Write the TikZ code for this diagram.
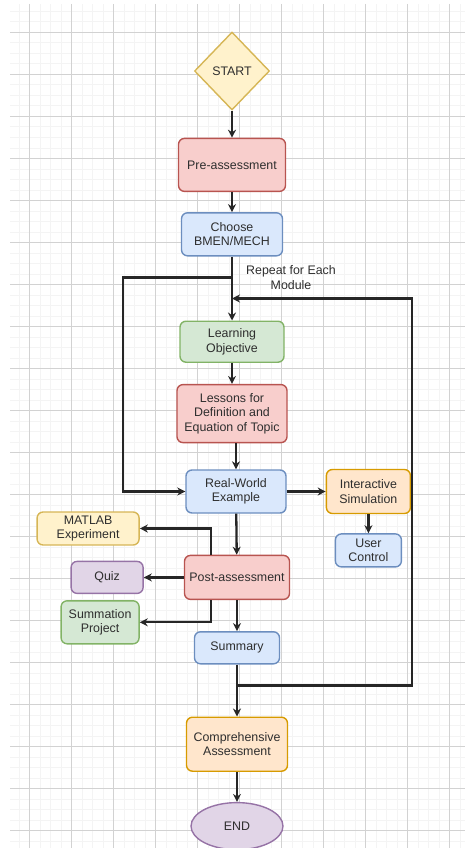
\documentclass[tikz,border=0pt]{standalone}
\usepackage{fontspec}
\setmainfont{Liberation Sans}
\usetikzlibrary{positioning,arrows.meta,shapes.geometric}

\definecolor{yelfill}{HTML}{FFF2CC}\definecolor{yeldraw}{HTML}{D6B656}
\definecolor{redfill}{HTML}{F8CECC}\definecolor{reddraw}{HTML}{B85450}
\definecolor{blufill}{HTML}{DAE8FC}\definecolor{bludraw}{HTML}{6C8EBF}
\definecolor{grnfill}{HTML}{D5E8D4}\definecolor{grndraw}{HTML}{82B366}
\definecolor{orgfill}{HTML}{FFE6CC}\definecolor{orgdraw}{HTML}{D79B00}
\definecolor{purfill}{HTML}{E1D5E7}\definecolor{purdraw}{HTML}{9673A6}
\definecolor{gridminor}{HTML}{F4F4F4}\definecolor{gridmajor}{HTML}{D2D2D2}
\definecolor{txt}{HTML}{2E2E2E}

\begin{document}
\begin{tikzpicture}[
        x=1pt, y=-1pt,
        node distance=20pt and 40pt,
        >={Stealth[length=8pt, width=8pt]},
        box/.style={rectangle, rounded corners=6pt, line width=1.4pt, align=center, inner sep=2pt, text=txt, font=\fontsize{12.4}{14.5}\selectfont},
        yelbox/.style={box, fill=yelfill, draw=yeldraw},
        redbox/.style={box, fill=redfill, draw=reddraw},
        blubox/.style={box, fill=blufill, draw=bludraw},
        grnbox/.style={box, fill=grnfill, draw=grndraw},
        orgbox/.style={box, fill=orgfill, draw=orgdraw},
        purbox/.style={box, fill=purfill, draw=purdraw},
        arrow/.style={->, line width=2.3pt, draw=black!85}
    ]
    \useasboundingbox (0,0) rectangle (465,848);
    \foreach \i in {1,...,43} \draw[gridminor, line width=1pt] ({8.5+\i*10.5},4) -- ({8.5+\i*10.5},848);
    \foreach \i in {-2,...,78} \draw[gridminor, line width=1pt] (10,{32.5+\i*10.5}) -- (465,{32.5+\i*10.5});
    \foreach \i in {0,...,10} \draw[gridmajor, line width=1pt] ({29.5+\i*42},4) -- ({29.5+\i*42},848);
    \foreach \i in {0,...,19} \draw[gridmajor, line width=1pt] (10,{32.5+\i*42}) -- (465,{32.5+\i*42});

    \node[yelbox, diamond, rounded corners=0pt, minimum width=75pt, minimum height=78pt, inner sep=0pt] (start) at (232,71) {START};
    \node[redbox, below=27pt of start, minimum width=107pt, minimum height=53pt] (pre) {Pre-assessment};
    \node[blubox, below=of pre, minimum width=101pt, minimum height=43pt] (choose) {Choose\\BMEN/MECH};
    \node[grnbox, below=64pt of choose, minimum width=104pt, minimum height=41pt] (learn) {Learning\\Objective};
    \node[redbox, below=21pt of learn, minimum width=110pt, minimum height=58pt] (lessons) {Lessons for\\Definition and\\Equation of Topic};
    \node[blubox, below=26pt of lessons, xshift=4pt, minimum width=100pt, minimum height=43pt] (real) {Real-World\\Example};
    \node[orgbox, right=39pt of real, minimum width=84pt, minimum height=44pt] (inter) {Interactive\\Simulation};
    \node[blubox, below=19pt of inter, minimum width=66pt, minimum height=33pt] (user) {User\\Control};
    \node[redbox, below=41pt of real, xshift=1pt, minimum width=105pt, minimum height=44pt] (post) {Post-assessment};
    \node[yelbox, above left=9pt and 44pt of post, minimum width=102pt, minimum height=33pt] (matlab) {MATLAB\\Experiment};
    \node[purbox, left=of post, minimum width=72pt, minimum height=32pt] (quiz) {Quiz};
    \node[grnbox, below left=0pt and 44pt of post, minimum width=78pt, minimum height=43pt] (summation) {Summation\\Project};
    \node[blubox, below=31pt of post, minimum width=85pt, minimum height=32pt] (summary) {Summary};
    \node[orgbox, below=52pt of summary, minimum width=101pt, minimum height=54pt] (comp) {Comprehensive\\Assessment};
    \node[purbox, ellipse, minimum width=92pt, minimum height=47pt] (end) [below=30pt of comp] {END};

    \coordinate[below=21pt of choose.south] (fork);
    \coordinate[below=21pt of fork] (merge);
    \coordinate[below=21pt of summary.south] (join);
    \coordinate[left=62pt of real.west] (backL);
    \node[right=14pt of fork, align=center, inner sep=0pt, text=txt, font=\fontsize{12.4}{15.5}\selectfont] (repeat) {Repeat for Each\\Module};

    \draw[arrow] (start) -- (pre);
    \draw[arrow] (pre) -- (choose);
    \draw[arrow] (choose) -- (learn);
    \draw[arrow] (fork) -| (backL) -- (real);
    \draw[arrow] (learn) -- (lessons);
    \draw[arrow] (real |- lessons.south) -- (real);
    \draw[arrow] (real) -- (inter);
    \draw[arrow] (inter) -- (user);
    \draw[arrow] (real) -- (post);
    \draw[arrow] ([xshift=-26pt]post.north) |- (matlab);
    \draw[arrow] (post) -- (quiz);
    \draw[arrow] ([xshift=-26pt]post.south) |- (summation);
    \draw[arrow] (post) -- (summary);
    \draw[arrow] (summary) -- (comp);
    \draw[arrow] (join) -| ([xshift=1pt]inter.east |- merge) -- (merge);
    \draw[arrow] (comp) -- (end);
\end{tikzpicture}
\end{document}
